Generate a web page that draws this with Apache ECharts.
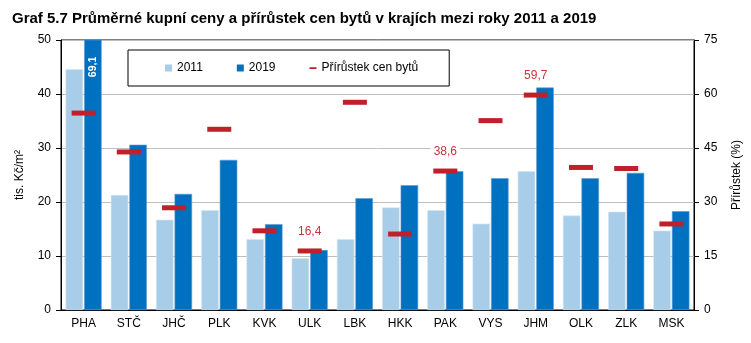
<!DOCTYPE html>
<html>
<head>
<meta charset="utf-8">
<style>
  html, body { margin: 0; padding: 0; background: #fff; }
  #chart { width: 751px; height: 343px; }
</style>
<script src="https://cdn.jsdelivr.net/npm/echarts@6/dist/echarts.min.js"></script>
</head>
<body>
<div id="chart"></div>
<script>
// Regions of Czechia
const categories = ['PHA', 'STČ', 'JHČ', 'PLK', 'KVK', 'ULK', 'LBK', 'HKK', 'PAK', 'VYS', 'JHM', 'OLK', 'ZLK', 'MSK'];
// Average purchase price of flats, thousand CZK per m2
const prices2011 = [44.6, 21.3, 16.7, 18.5, 13.1, 9.6, 13.1, 19.0, 18.5, 16.0, 25.7, 17.5, 18.2, 14.7];
const prices2019 = [69.1, 30.6, 21.5, 27.8, 15.9, 11.1, 20.7, 23.1, 25.7, 24.4, 41.2, 24.4, 25.4, 18.3];
// Price growth 2011–2019 in %
const growth = [54.7, 43.9, 28.4, 50.2, 22.0, 16.4, 57.7, 21.1, 38.6, 52.6, 59.7, 39.6, 39.3, 23.9];
// Growth values printed above their markers
const labelledGrowth = ['ULK', 'PAK', 'JHM'];
// Tick labels
const leftTicks = [0, 10, 20, 30, 40, 50];
const rightTicks = [0, 15, 30, 45, 60, 75];

const FONT = 'Liberation Sans, Arial, sans-serif';
const RED = '#c0202a';
const LABEL_RED = '#c8333b';
const fmt = v => String(v).replace('.', ',');

const chart = echarts.init(document.getElementById('chart'), null, { renderer: 'canvas' });

const bar2019Data = prices2019.map((v, i) => {
  if (i !== 0) return v;
  return {
    value: v,
    label: {
      show: true,
      position: 'insideTop',
      distance: 17,
      rotate: 90,
      align: 'right',
      verticalAlign: 'middle',
      color: '#fff',
      fontWeight: 'bold',
      fontSize: 10.5,
      fontFamily: FONT,
      formatter: p => fmt(p.value)
    }
  };
});

const growthData = growth.map((v, i) => {
  if (!labelledGrowth.includes(categories[i])) return v;
  return {
    value: v,
    label: {
      show: true,
      position: 'top',
      distance: 10,
      color: LABEL_RED,
      fontSize: 12,
      fontFamily: FONT,
      backgroundColor: '#fff',
      padding: [1, 3],
      formatter: p => fmt(p.value)
    }
  };
});

const option = {
  animation: false,
  textStyle: { fontFamily: FONT },
  title: {
    text: 'Graf 5.7 Průměrné kupní ceny a přírůstek cen bytů v krajích mezi roky 2011 a 2019',
    left: 7,
    top: 6,
    textStyle: { fontSize: 15, fontWeight: 'bold', color: '#000', fontFamily: FONT }
  },
  legend: {
    left: 128,
    top: 50,
    padding: [12, 31, 12, 37],
    borderColor: '#000',
    borderWidth: 1,
    itemGap: 34,
    itemWidth: 7,
    itemHeight: 7,
    itemStyle: { borderWidth: 0 },
    textStyle: { fontSize: 12, color: '#000', fontFamily: FONT },
    data: [
      { name: '2011', icon: 'rect' },
      { name: '2019', icon: 'rect' },
      { name: 'Přírůstek cen bytů', icon: 'path://M0,0L10,0L10,0.01Z M0,4L10,4L10,6.4L0,6.4Z M0,10L10,10L10,10.01Z' }
    ]
  },
  grid: {
    left: 61,
    right: 55,
    top: 40,
    bottom: 33,
    show: true,
    borderColor: '#000',
    borderWidth: 1
  },
  xAxis: {
    type: 'category',
    data: categories,
    axisLine: { lineStyle: { color: '#000' } },
    axisTick: { length: 5, lineStyle: { color: '#000' } },
    axisLabel: { color: '#000', fontSize: 12, margin: 8, fontFamily: FONT }
  },
  yAxis: [
    {
      type: 'value',
      min: leftTicks[0],
      max: leftTicks[leftTicks.length - 1],
      interval: leftTicks[1] - leftTicks[0],
      name: 'tis. Kč/m²',
      nameLocation: 'middle',
      nameRotate: 90,
      nameGap: 35,
      nameTextStyle: { fontSize: 12, color: '#000', fontFamily: FONT },
      axisLine: { show: true, lineStyle: { color: '#000' } },
      axisTick: { show: true, length: 5, lineStyle: { color: '#000' } },
      axisLabel: { color: '#000', fontSize: 12, margin: 10, fontFamily: FONT },
      splitLine: { show: true, lineStyle: { color: '#bfbfbf' } }
    },
    {
      type: 'value',
      min: rightTicks[0],
      max: rightTicks[rightTicks.length - 1],
      interval: rightTicks[1] - rightTicks[0],
      name: 'Přírůstek (%)',
      nameLocation: 'middle',
      nameRotate: 90,
      nameGap: 37,
      nameTextStyle: { fontSize: 12, color: '#000', fontFamily: FONT },
      axisLine: { show: true, lineStyle: { color: '#000' } },
      axisTick: { show: true, length: 5, lineStyle: { color: '#000' } },
      axisLabel: { color: '#000', fontSize: 12, margin: 10, fontFamily: FONT },
      splitLine: { show: false }
    }
  ],
  series: [
    {
      name: '2011',
      type: 'bar',
      data: prices2011,
      barWidth: 17.5,
      barGap: '6%',
      clip: true,
      itemStyle: { color: '#a8cde8', borderColor: '#d4e6f4', borderWidth: 0.6 }
    },
    {
      name: '2019',
      type: 'bar',
      data: bar2019Data,
      barWidth: 17.5,
      clip: true,
      itemStyle: { color: '#0070c0', borderColor: '#5b9bd5', borderWidth: 0.6 }
    },
    {
      name: 'Přírůstek cen bytů',
      type: 'scatter',
      yAxisIndex: 1,
      data: growthData,
      symbol: 'rect',
      symbolSize: [24, 5],
      itemStyle: { color: RED, opacity: 1 },
      z: 5
    }
  ]
};

chart.setOption(option);
</script>
</body>
</html>
